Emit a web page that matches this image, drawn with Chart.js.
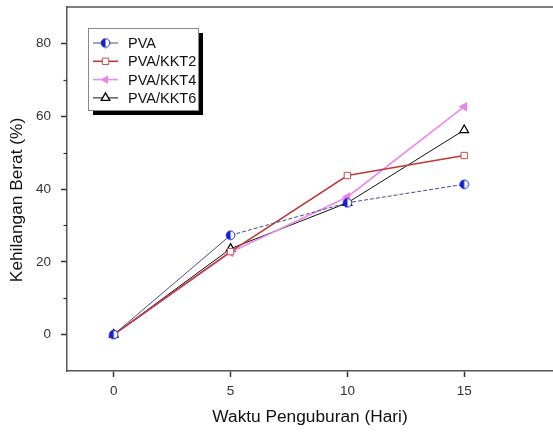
<!DOCTYPE html>
<html>
<head>
<meta charset="utf-8">
<script src="https://cdn.jsdelivr.net/npm/chart.js@4.4.1/dist/chart.umd.min.js"></script>
<style>
  body { margin: 0; background: #fff; }
  canvas { display: block; }
</style>
</head>
<body>
<canvas id="chart" width="553" height="432"></canvas>
<script>
// data
const days = [0, 5, 10, 15];
const pva = [0, 27.3, 36.2, 41.3];
const kkt2 = [0, 22.8, 43.7, 49.2];
const kkt4 = [0, 22.6, 37.8, 62.6];
const kkt6 = [0, 23.6, 36.2, 56.2];
const seriesNames = ['PVA', 'PVA/KKT2', 'PVA/KKT4', 'PVA/KKT6'];
const xTicks = [0, 5, 10, 15];
const yTicks = [0, 20, 40, 60, 80];
const yMinorTicks = [10, 30, 50, 70];
const yTitle = 'Kehilangan Berat (%)';

const toPoints = (vals) => vals.map((v, i) => ({ x: days[i], y: v }));
const FONT = '"Liberation Sans", Arial, sans-serif';

// half filled circle marker for PVA
const halfCircle = (() => {
  const c = document.createElement('canvas');
  c.width = 11; c.height = 11;
  const g = c.getContext('2d');
  g.beginPath(); g.arc(5.5, 5.5, 4.3, 0, Math.PI * 2);
  g.fillStyle = '#fff'; g.fill();
  g.beginPath(); g.arc(5.5, 5.5, 4.3, Math.PI / 2, Math.PI * 1.5);
  g.fillStyle = '#1020d0'; g.fill();
  g.beginPath(); g.arc(5.5, 5.5, 4.3, 0, Math.PI * 2);
  g.strokeStyle = '#1020d0'; g.lineWidth = 1; g.stroke();
  return c;
})();

const datasets = [
  {
    label: seriesNames[0], data: toPoints(pva),
    borderColor: '#4a4a90', borderWidth: 1,
    segment: { borderDash: ctx => ctx.p0DataIndex >= 1 ? [4, 2] : undefined },
    pointStyle: halfCircle, pointRadius: 5
  },
  {
    label: seriesNames[1], data: toPoints(kkt2),
    borderColor: '#c03a3a', borderWidth: 1.6,
    pointStyle: 'rect', pointRadius: 4.5, pointBorderWidth: 1,
    pointBackgroundColor: '#fff', pointBorderColor: '#c85050'
  },
  {
    label: seriesNames[2], data: toPoints(kkt4),
    borderColor: '#ee88ee', borderWidth: 1.6,
    pointStyle: 'triangle', rotation: -90, pointRadius: 4,
    pointBackgroundColor: '#ee80ee', pointBorderColor: '#ee80ee'
  },
  {
    label: seriesNames[3], data: toPoints(kkt6),
    borderColor: '#111', borderWidth: 1,
    pointStyle: 'triangle', pointRadius: 5, pointBorderWidth: 1.3,
    pointBackgroundColor: '#fff', pointBorderColor: '#000'
  }
];

const frame = {
  id: 'frame',
  afterDraw(chart) {
    const { ctx, chartArea: a, scales } = chart;
    ctx.save();
    // top border
    ctx.strokeStyle = '#555'; ctx.lineWidth = 1.5;
    ctx.beginPath(); ctx.moveTo(a.left, a.top); ctx.lineTo(a.right, a.top); ctx.stroke();
    // minor ticks on the y axis
    ctx.strokeStyle = '#333'; ctx.lineWidth = 1.2;
    yMinorTicks.forEach(v => {
      const y = Math.round(scales.y.getPixelForValue(v)) + 0.5;
      ctx.beginPath(); ctx.moveTo(a.left - 3.5, y); ctx.lineTo(a.left, y); ctx.stroke();
    });

    // y axis title, sits a little below the middle of the axis in the original
    ctx.save();
    ctx.translate(17, 200);
    ctx.rotate(-Math.PI / 2);
    ctx.font = '17.3px ' + FONT;
    ctx.fillStyle = '#111';
    ctx.textAlign = 'center';
    ctx.textBaseline = 'middle';
    ctx.fillText(yTitle, 0, 0);
    ctx.restore();

    // legend box with drop shadow
    const bx = 88, by = 28, bw = 110, bh = 82;
    ctx.fillStyle = '#000';
    ctx.fillRect(bx + 5, by + 5, bw, bh);
    ctx.fillStyle = '#fff';
    ctx.fillRect(bx, by, bw, bh);
    ctx.strokeStyle = '#888'; ctx.lineWidth = 1;
    ctx.strokeRect(bx + 0.5, by + 0.5, bw, bh);
    ctx.font = '14.5px ' + FONT;
    ctx.textBaseline = 'middle';
    chart.data.datasets.forEach((ds, i) => {
      const y = 43 + i * 18.3;
      ctx.strokeStyle = ds.borderColor; ctx.lineWidth = ds.borderWidth;
      ctx.setLineDash([]);
      ctx.beginPath(); ctx.moveTo(93, y); ctx.lineTo(118, y); ctx.stroke();
      ctx.fillStyle = ds.pointBackgroundColor || '#fff';
      ctx.strokeStyle = ds.pointBorderColor || ds.borderColor;
      ctx.lineWidth = ds.pointBorderWidth || 1;
      Chart.helpers.drawPoint(ctx, {
        pointStyle: ds.pointStyle, rotation: ds.rotation || 0,
        radius: ds.pointRadius, borderWidth: ds.pointBorderWidth || 1
      }, 105.5, y);
      ctx.fillStyle = '#111';
      ctx.fillText(ds.label, 128, y + 1);
    });
    ctx.restore();
  }
};

new Chart(document.getElementById('chart'), {
  type: 'line',
  data: { datasets },
  options: {
    responsive: false,
    animation: false,
    layout: { autoPadding: false, padding: { top: 7, right: 0, left: 0, bottom: 0 } },
    plugins: { legend: { display: false }, tooltip: { enabled: false } },
    scales: {
      x: {
        type: 'linear', min: -2, max: 18.8,
        afterBuildTicks: s => { s.ticks = xTicks.map(v => ({ value: v })); },
        afterFit: s => { s.height = 61; s.paddingLeft = 0; s.paddingRight = 0; },
        grid: { drawOnChartArea: false, tickLength: 6, tickColor: '#333', tickWidth: 1.5 },
        border: { color: '#555', width: 1.5 },
        ticks: { color: '#333', padding: 6, font: { size: 13.5, family: FONT } },
        title: {
          display: true, text: 'Waktu Penguburan (Hari)', color: '#111',
          padding: { top: 0, bottom: 4 },
          font: { size: 17.3, family: FONT }
        }
      },
      y: {
        type: 'linear', min: -10, max: 90,
        afterBuildTicks: s => { s.ticks = yTicks.map(v => ({ value: v })); },
        afterFit: s => { s.width = 67; s.paddingTop = 0; s.paddingBottom = 0; },
        grid: { drawOnChartArea: false, tickLength: 6, tickColor: '#333', tickWidth: 1.5 },
        border: { color: '#555', width: 1.5 },
        ticks: { color: '#333', padding: 10, font: { size: 13.5, family: FONT } },
        title: { display: false }
      }
    }
  },
  plugins: [frame]
});
</script>
</body>
</html>
